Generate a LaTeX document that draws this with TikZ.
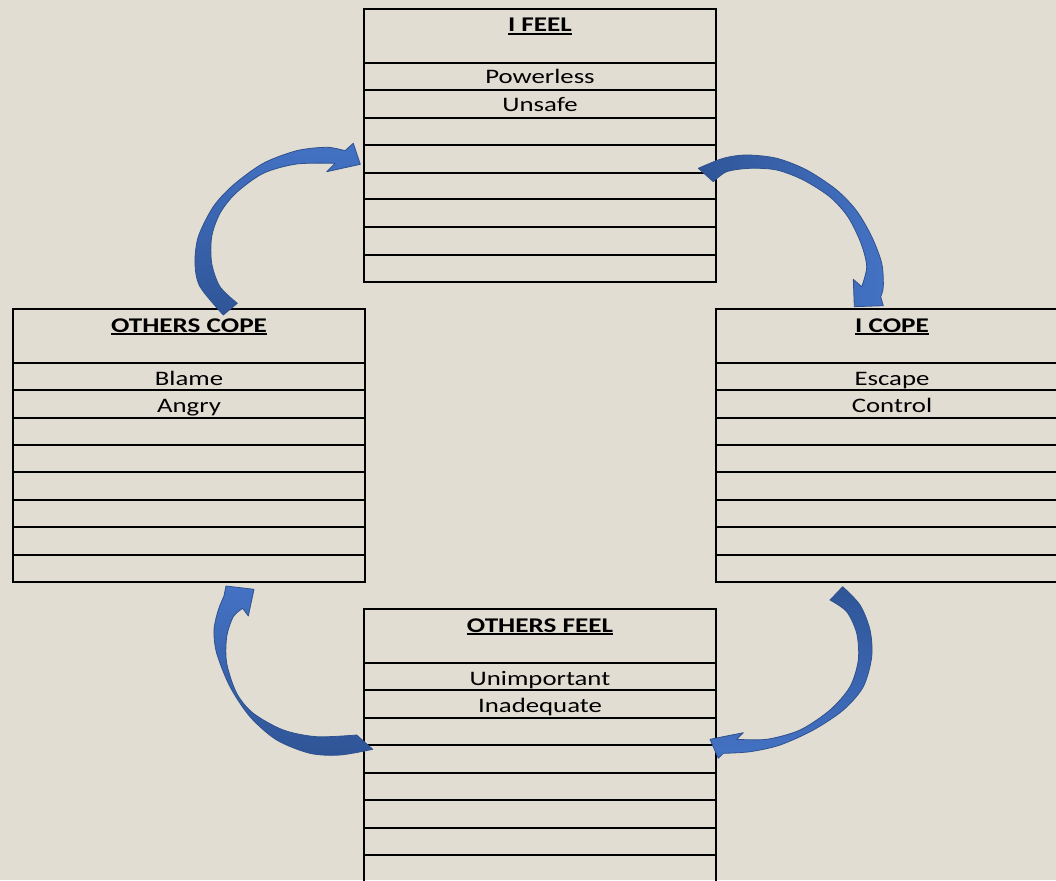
\documentclass[tikz,border=0pt]{standalone}
\usepackage{fontspec}
\setmainfont{Carlito}[FakeStretch=1.3]
\definecolor{bg}{HTML}{E2DDD2}
\definecolor{arlight}{HTML}{4472C4}
\definecolor{ardark}{HTML}{2F5597}
\definecolor{arline}{HTML}{2F528F}
\newsavebox\hdrbox
\newcommand\ulhead[1]{\sbox\hdrbox{#1}\rlap{\rule[-3pt]{\wd\hdrbox}{1.8pt}}\usebox\hdrbox}
\tikzset{
  cellbox/.style={draw=black, line width=2pt, inner sep=0pt, outer sep=0pt,
    minimum width=352pt, minimum height=273pt, anchor=north west},
  txt/.style={anchor=base, inner sep=0pt, font=\fontsize{20.6}{24}\selectfont},
  hdr/.style={anchor=base, inner sep=0pt, font=\fontsize{20.9}{24}\selectfont\bfseries},
  blockarrow/.style={draw=arline, line width=0.8pt, line join=round},
}
\begin{document}
\begin{tikzpicture}[x=1pt,y=-1pt]
\useasboundingbox (0,0) rectangle (1056,880);
\fill[bg] (0,0) rectangle (1056,880);
\clip (0,0) rectangle (1056,880);

% boxes
\node[cellbox] (ifeel) at (364,9) {};
\node[cellbox] (ocope) at (13,309) {};
\node[cellbox] (icope) at (716,309) {};
\node[cellbox] (ofeel) at (364,609) {};

\foreach \o/\w in {54/1.3,81/1.3,109/2.2,136/1.3,164/2.2,190/1.3,218/1.3,246/2.2}
  \draw[line width=\w pt] ([yshift=-\o pt]ifeel.north west) -- ([yshift=-\o pt]ifeel.north east);
\foreach \o/\w in {54/2.2,81/1.3,109/2.2,136/1.3,163/1.3,191/2.2,218/1.3,246/2.2}
  \draw[line width=\w pt] ([yshift=-\o pt]ocope.north west) -- ([yshift=-\o pt]ocope.north east);
\foreach \o/\w in {54/2.2,81/1.3,109/2.2,136/1.3,163/1.3,191/2.2,218/1.3,246/2.2}
  \draw[line width=\w pt] ([yshift=-\o pt]icope.north west) -- ([yshift=-\o pt]icope.north east);
\foreach \o/\w in {54/2.2,81/1.3,109/1.3,136/2.2,164/1.3,191/1.3,219/2.2,246/1.3}
  \draw[line width=\w pt] ([yshift=-\o pt]ofeel.north west) -- ([yshift=-\o pt]ofeel.north east);

% texts
\node[hdr] (ifeelh) at ([yshift=-23pt]ifeel.north) {\ulhead{I FEEL}};
\node[txt] (ifeel1) at ([yshift=-75pt]ifeel.north) {Powerless};
\node[txt] (ifeel2) at ([yshift=-103pt]ifeel.north) {Unsafe};

\node[hdr] (ocopeh) at ([yshift=-23pt]ocope.north) {\ulhead{OTHERS COPE}};
\node[txt] (ocope1) at ([yshift=-76pt]ocope.north) {Blame};
\node[txt] (ocope2) at ([yshift=-103pt]ocope.north) {Angry};

\node[hdr] (icopeh) at ([yshift=-23pt]icope.north) {\ulhead{I COPE}};
\node[txt] (icope1) at ([yshift=-76pt]icope.north) {Escape};
\node[txt] (icope2) at ([yshift=-103pt]icope.north) {Control};

\node[hdr] (ofeelh) at ([yshift=-23pt]ofeel.north) {\ulhead{OTHERS FEEL}};
\node[txt] (ofeel1) at ([yshift=-76pt]ofeel.north) {Unimportant};
\node[txt] (ofeel2) at ([yshift=-103pt]ofeel.north) {Inadequate};

% curved block arrows
% OTHERS COPE -> I FEEL
\shadedraw[blockarrow, top color=arlight, bottom color=ardark]
  (237.3,303.3) -- (223.3,315)
  -- plot[smooth, tension=0.5] coordinates {(223.3,315) (200,286.7) (195,263.3) (198.3,236.7) (213.3,206.7) (233.3,185) (263.3,163.3) (296.7,150.7) (326.7,147.3) (345,150.7)}
  -- (353.3,143.3) -- (360.3,164.3) -- (326.7,171.7) -- (335,163.3)
  -- plot[smooth, tension=0.5] coordinates {(335,163.3) (296.7,164) (263.3,173.3) (236,193) (220,213.3) (211.7,236.7) (211.7,263.3) (220,286.7) (237.3,303.3)}
  -- cycle;

% I FEEL -> I COPE
\shadedraw[blockarrow, left color=ardark, right color=arlight]
  (713.3,181.7) -- (698.3,168.3)
  -- plot[smooth, tension=0.5] coordinates {(698.3,168.3) (723.3,158.3) (746.7,155) (776.7,158.3) (806.7,170) (836.7,190) (856.7,211) (871.7,236.7) (881.7,263.3) (883.3,286.7) (880.7,296.7)}
  -- (883.3,305.7) -- (854.3,306.7) -- (853.3,279.3) -- (861.7,286.7)
  -- plot[smooth, tension=0.5] coordinates {(861.7,286.7) (866.7,266.7) (861,243.3) (848,217) (830,197) (803.3,180) (776.7,170) (750,168.3) (726.7,171.7) (713.3,181.7)}
  -- cycle;

% I COPE -> OTHERS FEEL
\shadedraw[blockarrow, top color=ardark, bottom color=arlight]
  (830,600) -- (842.7,586.7)
  -- plot[smooth, tension=0.5] coordinates {(842.7,586.7) (860,605) (870,630) (871.7,656.7) (863.3,686.7) (843.3,710) (813.3,730) (780,745) (750,751.7) (723.3,753.3)}
  -- (718.3,758.3) -- (710,739.3) -- (743.3,732.7) -- (736.7,739.3)
  -- plot[smooth, tension=0.5] coordinates {(736.7,739.3) (766.7,739.3) (800,730) (830,710) (850,686.7) (858.3,660) (856.7,633.3) (846.7,611.7) (830,600)}
  -- cycle;

% OTHERS FEEL -> OTHERS COPE
\shadedraw[blockarrow, top color=arlight, bottom color=ardark]
  (356.7,735) -- (372.7,749.3)
  -- plot[smooth, tension=0.5] coordinates {(372.7,749.3) (340,755) (310,753.3) (276.7,740) (250,716.7) (230,686.7) (216.7,653.3) (214,630) (218.3,610) (224,596)}
  -- (226,586) -- (254,589.3) -- (248.3,616) -- (242.7,608.3)
  -- plot[smooth, tension=0.5] coordinates {(242.7,608.3) (233.3,616.7) (226.7,636.7) (226.7,663.3) (236.7,693.3) (253.3,713.3) (283.3,730) (316.7,736.7) (356.7,735)}
  -- cycle;
\end{tikzpicture}
\end{document}
